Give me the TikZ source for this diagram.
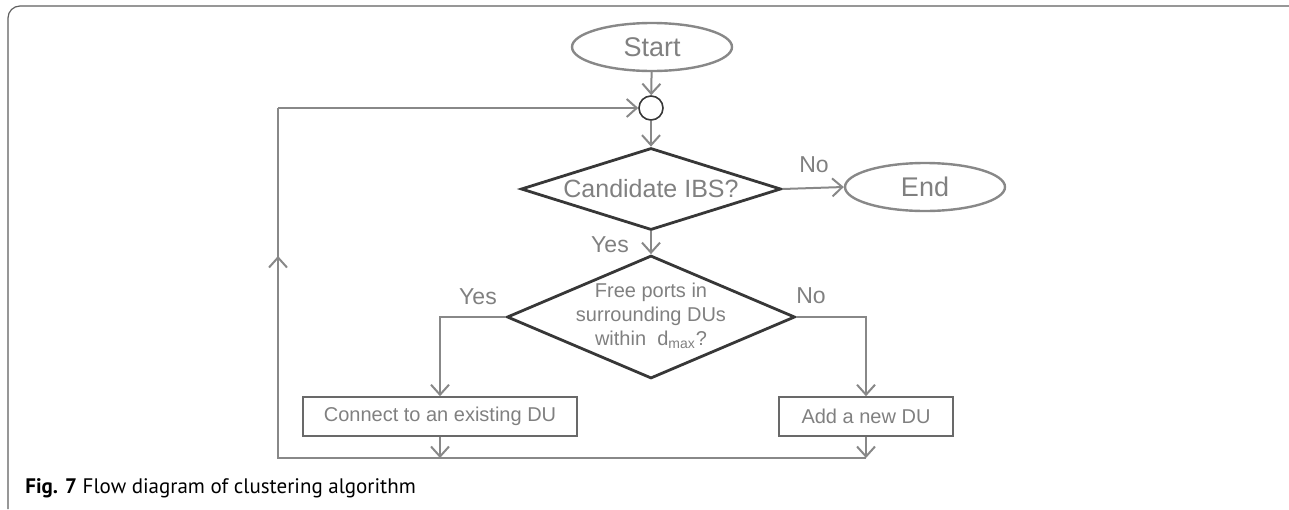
\documentclass[tikz,border=0pt]{standalone}
\usepackage{fontspec}
\setmainfont{Liberation Sans}
\newfontfamily\capfont{PT Sans}
\usetikzlibrary{shapes.geometric,arrows.meta,positioning}
\definecolor{txtgray}{RGB}{128,128,128}
\definecolor{linegray}{RGB}{136,136,136}
\definecolor{darkline}{RGB}{55,55,55}
\definecolor{boxgray}{RGB}{105,105,105}
\definecolor{framegray}{RGB}{95,95,95}

\begin{document}
\begin{tikzpicture}[x=0.5pt, y=-0.5pt,
  flow/.style={draw=linegray, line width=1pt, -{Straight Barb[length=5pt,width=9pt]}},
  loopline/.style={draw=linegray, line width=1pt},
  terminal/.style={ellipse, draw=linegray, line width=1.2pt, text=txtgray,
    minimum width=80pt, minimum height=24pt, inner sep=0pt,
    font=\fontsize{13.5}{14}\selectfont},
  junction/.style={circle, draw=darkline, line width=0.8pt, minimum size=12pt, inner sep=0pt},
  decision/.style={diamond, draw=darkline, line width=1.4pt, text=txtgray, inner sep=0pt, align=center},
  procbox/.style={rectangle, draw=boxgray, line width=0.8pt, text=txtgray,
    minimum height=19.5pt, inner sep=0pt, font=\fontsize{10}{12}\selectfont},
  answer/.style={text=txtgray, inner sep=0pt, font=\fontsize{11.5}{12}\selectfont}]

\useasboundingbox (0,0) rectangle (1289,509);

% ---- frame ----
\draw[framegray, line width=0.6pt, rounded corners=6pt] (1289,6) -- (8,6) -- (8,509);

% ---- main column ----
\node[terminal] (start) at (652,47) {Start};
\node[junction] (join) at (651,108) {};
\node[decision, shape aspect=3.17, minimum width=130pt, minimum height=41pt,
  font=\fontsize{12.5}{14}\selectfont] (cand) at (651,189) {Candidate IBS?};
\node[terminal] (end) at (925,187) {End};
% text kept out of the size so the diamond stays as drawn
\node[decision, shape aspect=2.34, minimum width=144pt, minimum height=61.5pt,
  font=\fontsize{10}{12}\selectfont] (ports) at (651,317)
  {\makebox[0pt]{\begin{tabular}{@{}c@{}}Free ports in\\surrounding DUs\\within\ \ d\textsubscript{max}?\end{tabular}}};

% ---- actions ----
\node[procbox, minimum width=137pt] (conn) at (440,416.5) {Connect to an existing DU};
\node[procbox, minimum width=87pt] (newdu) at (866,416.5) {Add a new DU};

% ---- answers ----
\node[answer] (candno) at (814,165) {No};
\node[answer] (candyes) at (610,245) {Yes};
\node[answer] (portsyes) at (478,297) {Yes};
\node[answer] (portsno) at (811,296) {No};

% ---- loop corners ----
\coordinate (loopR) at (866,458);
\coordinate (loopL) at (278,458);
\coordinate (loopmid) at (278,256);

% ---- connectors ----
\draw[flow] (start) -- (join);
\draw[flow] (join) -- (cand);
\draw[flow] (cand.east) -- (end.west);
\draw[flow] (cand.south) -- (ports.north);
\draw[flow] (ports.west) -| (conn.north);
\draw[flow] (ports.east) -| (newdu.north);
\draw[flow] (conn.south) -- (conn.south |- loopR);
\draw[flow] (newdu.south) -- (loopR);
\draw[loopline] (loopR) -- (loopL) -- (loopL |- join);
\draw[flow] (loopL |- join) -- (join.west);
\draw[flow] (loopL) -- (loopmid);

% ---- caption ----
\node[anchor=west, inner sep=0pt, text=black, font=\capfont\fontsize{10.5}{12}\selectfont] (caption) at (25,488)
  {\textbf{Fig. 7} Flow diagram of clustering algorithm};

\end{tikzpicture}
\end{document}
